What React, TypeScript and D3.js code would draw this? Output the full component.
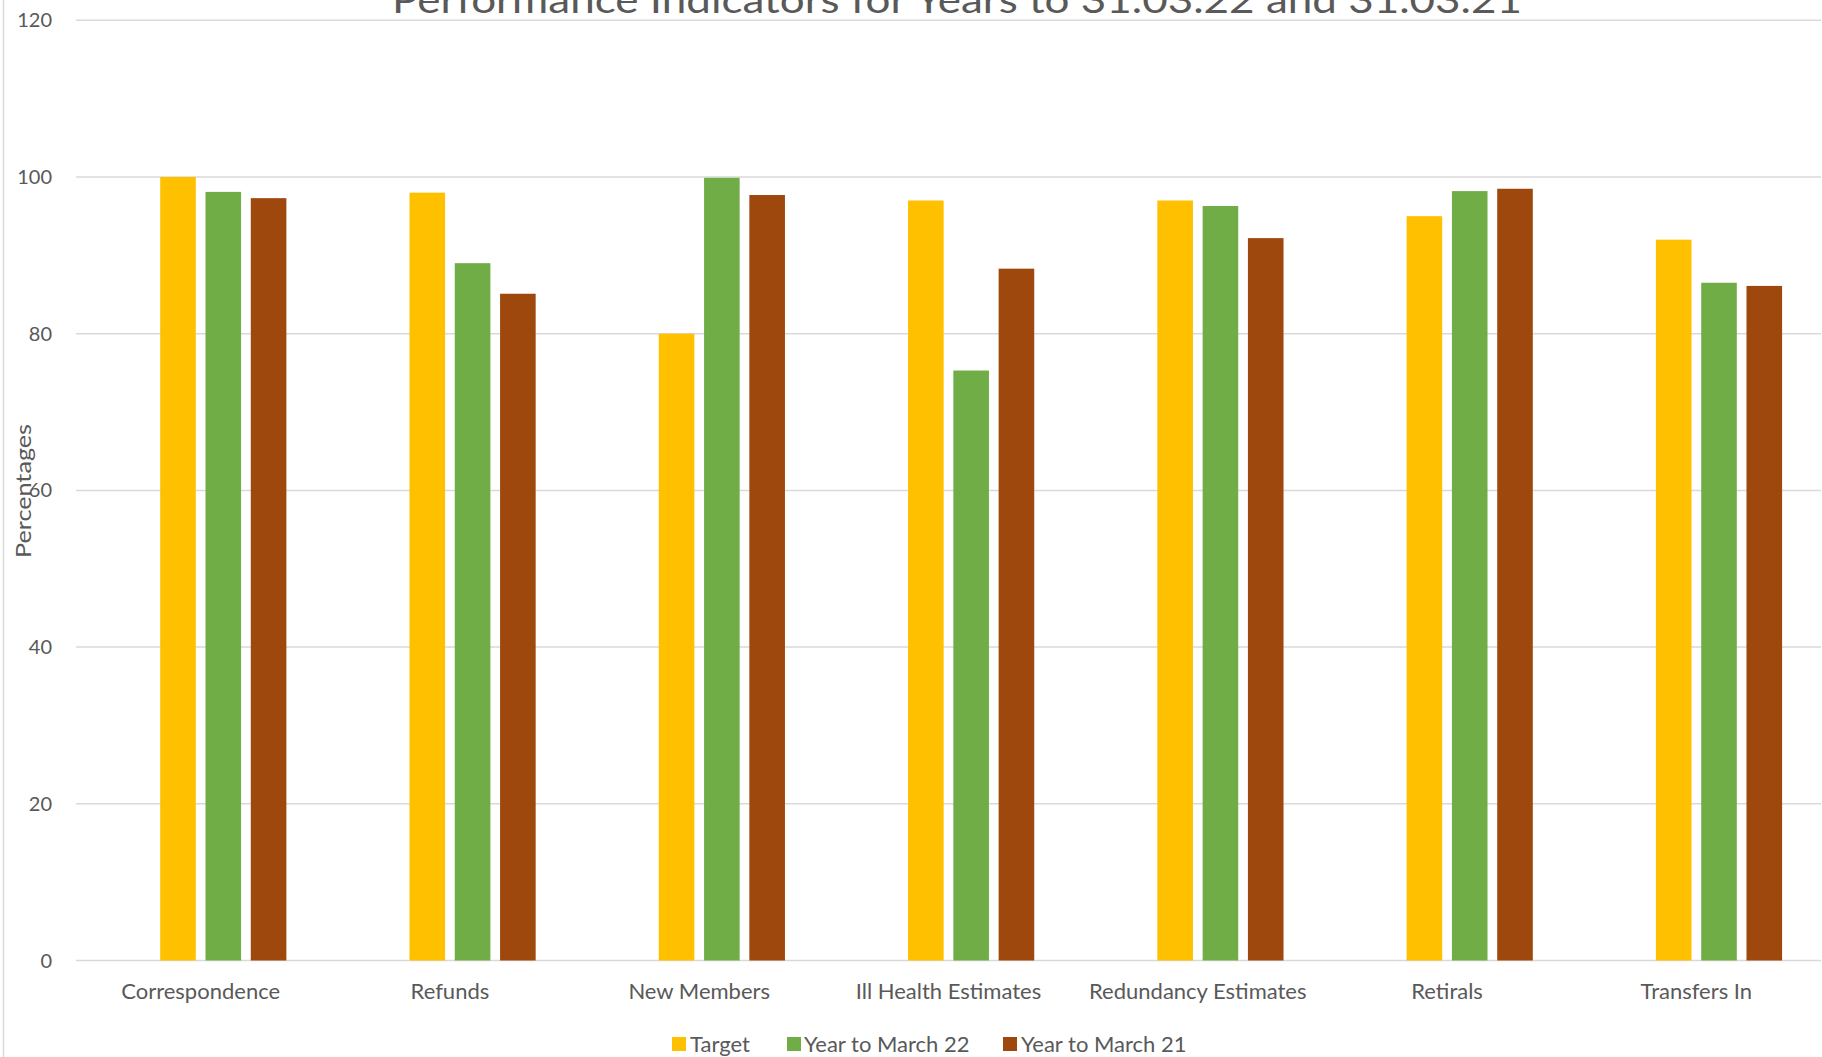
import React from "react";
import * as d3 from "d3";

const categories = ["Correspondence", "Refunds", "New Members", "Ill Health Estimates", "Redundancy Estimates", "Retirals", "Transfers In"];
const target = [100, 98, 80, 97, 97, 95, 92];
const yearToMarch22 = [98.1, 89, 99.9, 75.3, 96.3, 98.2, 86.5];
const yearToMarch21 = [97.3, 85.1, 97.7, 88.3, 92.2, 98.5, 86.1];
const seriesNames = ["Target", "Year to March 22", "Year to March 21"];
const yTicks = [0, 20, 40, 60, 80, 100, 120];
const title = "Performance Indicators for Years to 31.03.22 and 31.03.21";

const colors = ["#FFC000", "#70AD47", "#9E480E"];
const FONT = "Lato, 'Open Sans', sans-serif";
const TEXT = "#595959";

export default function App() {
  const W = 1822, H = 1057;
  const x = d3.scaleBand<string>().domain(categories).range([76, 1821]).paddingInner(0).paddingOuter(0);
  // first slot is an empty series (as in the source chart)
  const slots = ["_empty", ...seriesNames];
  const xs = d3.scaleBand<string>().domain(slots).range([0, x.bandwidth()]).paddingInner(0.214).paddingOuter(0.859);
  const y = d3.scaleLinear().domain([0, 120]).range([960.5, 20.3]);
  const data = [target, yearToMarch22, yearToMarch21];

  const legendItems = [
    { name: seriesNames[0], sx: 672, tx: 690 },
    { name: seriesNames[1], sx: 787, tx: 804 },
    { name: seriesNames[2], sx: 1003, tx: 1021 },
  ];

  return (
    <div style={{ position: "absolute", left: 0, top: 0 }}>
      <svg width={W} height={H} style={{ display: "block", background: "#fff" }} fontFamily={FONT}>
        <rect x={0} y={0} width={W} height={H} fill="#fff" />
        <line x1={3.5} x2={3.5} y1={0} y2={H} stroke="#d9d9d9" strokeWidth={1.5} />
        {yTicks.map((t) => (
          <g key={t}>
            <line x1={76} x2={1821} y1={y(t)} y2={y(t)} stroke="#d9d9d9" strokeWidth={1.5} />
            <text x={52} y={y(t)} dy="0.35em" textAnchor="end" fontSize={20} fill={TEXT}>{t}</text>
          </g>
        ))}
        {categories.map((c, ci) => (
          <g key={c}>
            {data.map((vals, si) => (
              <rect
                key={si}
                x={(x(c) ?? 0) + (xs(seriesNames[si]) ?? 0)}
                y={y(vals[ci])}
                width={xs.bandwidth()}
                height={y(0) - y(vals[ci])}
                fill={colors[si]}
              />
            ))}
            <text x={(x(c) ?? 0) + x.bandwidth() / 2} y={999} textAnchor="middle" fontSize={22} fill={TEXT}>{c}</text>
          </g>
        ))}
        <text x={957} y={13} textAnchor="middle" fontSize={36} fill={TEXT} textLength={1130} lengthAdjust="spacingAndGlyphs">{title}</text>
        <text transform="translate(31,491) rotate(-90)" textAnchor="middle" fontSize={21} fill={TEXT} textLength={134} lengthAdjust="spacingAndGlyphs">Percentages</text>
        {legendItems.map((l, i) => (
          <g key={l.name}>
            <rect x={l.sx} y={1037} width={14} height={14} fill={colors[i]} />
            <text x={l.tx} y={1044} dy="0.35em" fontSize={22} fill={TEXT}>{l.name}</text>
          </g>
        ))}
      </svg>
    </div>
  );
}
